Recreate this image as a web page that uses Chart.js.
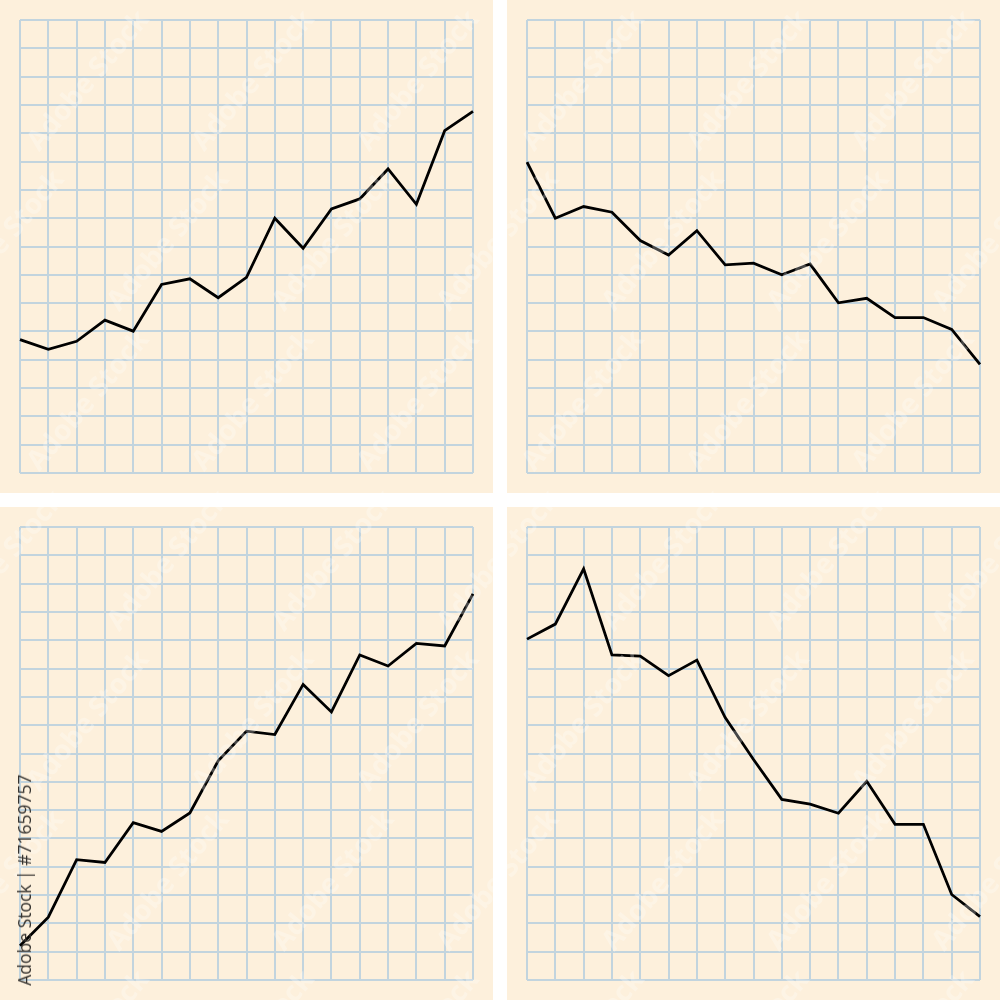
<!DOCTYPE html>
<html>
<head>
<meta charset="utf-8">
<script src="https://cdn.jsdelivr.net/npm/chart.js@4.4.0/dist/chart.umd.min.js"></script>
<style>
  body { margin: 0; background: #ffffff; width: 1000px; height: 1000px; position: relative; overflow: hidden; }
  .panel { position: absolute; width: 493px; height: 493px; background: #fdf0dc; }
  .stamp { position: absolute; left: 24px; top: 880px; transform: translate(-50%, -50%) rotate(-90deg);
           font-family: "Open Sans", "DejaVu Sans", sans-serif; font-size: 17.5px; color: #34322f; white-space: nowrap; }
  .wm { position: absolute; font-family: "Open Sans", sans-serif; font-weight: bold; font-size: 28px;
        color: rgba(255,255,255,0.28); transform: rotate(-50deg); white-space: nowrap; pointer-events: none; }
</style>
</head>
<body>
<div class="panel" style="left:0;top:0"><canvas id="c1"></canvas></div>
<div class="panel" style="left:507px;top:0"><canvas id="c2"></canvas></div>
<div class="panel" style="left:0;top:507px"><canvas id="c3"></canvas></div>
<div class="panel" style="left:507px;top:507px"><canvas id="c4"></canvas></div>
<div id="marks"></div>
<div class="stamp">Adobe Stock | #71659757</div>
<script>
// x positions along each sheet (one per vertical grid line)
var steps = ['0','1','2','3','4','5','6','7','8','9','10','11','12','13','14','15','16'];

// values, in grid squares from the bottom
var risingA  = [4.71, 4.37, 4.65, 5.40, 5.01, 6.66, 6.86, 6.19, 6.91, 9.00, 7.94, 9.33, 9.68, 10.74, 9.49, 12.09, 12.77];
var fallingA = [10.98, 9.00, 9.41, 9.21, 8.21, 7.70, 8.56, 7.35, 7.41, 7.00, 7.38, 6.01, 6.17, 5.49, 5.49, 5.07, 3.84];
var risingB  = [1.21, 2.22, 4.25, 4.15, 5.56, 5.25, 5.90, 7.74, 8.79, 8.67, 10.44, 9.47, 11.48, 11.09, 11.89, 11.80, 13.64];
var fallingB = [12.04, 12.57, 14.52, 11.48, 11.44, 10.75, 11.30, 9.27, 7.79, 6.38, 6.21, 5.89, 7.02, 5.50, 5.50, 3.02, 2.24];

var gridColor = '#c2d4de';

function sheet(id, values) {
    var canvas = document.getElementById(id);
    canvas.width = 493;
    canvas.height = 493;
    return new Chart(canvas.getContext('2d'), {
        type: 'line',
        data: {
            labels: steps,
            datasets: [{
                data: values,
                borderColor: '#000000',
                borderWidth: 2.8,
                pointRadius: 0,
                tension: 0,
                fill: false
            }]
        },
        options: {
            responsive: false,
            animation: false,
            layout: { padding: { left: 20, right: 20, top: 20, bottom: 20 } },
            plugins: { legend: { display: false }, tooltip: { enabled: false } },
            scales: {
                x: {
                    type: 'category',
                    offset: false,
                    ticks: { display: false },
                    grid: { color: gridColor, lineWidth: 2, drawTicks: false },
                    border: { display: false }
                },
                y: {
                    min: 0,
                    max: 16,
                    ticks: { display: false, stepSize: 1 },
                    grid: { color: gridColor, lineWidth: 2, drawTicks: false },
                    border: { display: false }
                }
            }
        }
    });
}

sheet('c1', risingA);
sheet('c2', fallingA);
sheet('c3', risingB);
sheet('c4', fallingB);

// faint stock watermarks
var marks = document.getElementById('marks');
for (var r = -1; r < 7; r++) {
    for (var c = -1; c < 7; c++) {
        var d = document.createElement('div');
        d.className = 'wm';
        d.textContent = 'Adobe Stock';
        d.style.left = (c * 165 + (r % 2) * 80) + 'px';
        d.style.top = (r * 160 + 60) + 'px';
        marks.appendChild(d);
    }
}
</script>
</body>
</html>
